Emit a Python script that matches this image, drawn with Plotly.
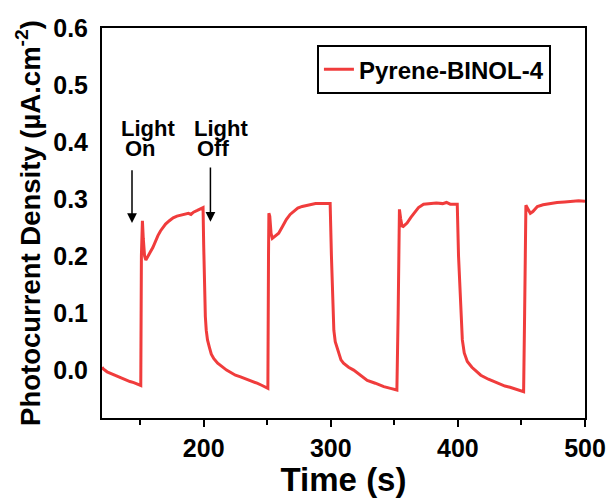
import plotly.graph_objects as go

# time (s) and photocurrent density (uA/cm^2)
time_s = [
    120, 121, 124, 127, 130, 133, 136, 139, 142, 145, 148, 150.5,
    151, 151.8, 152.5, 153.5, 154.5, 156, 158, 160, 162, 164, 166, 168, 170, 173, 176, 179,
    182, 185, 188, 190, 192, 195, 198, 199.5,
    200, 200.6, 201.3, 202, 203, 204.5, 206, 208, 211, 214.5, 218, 222, 225, 229, 233, 238,
    242, 246, 249, 250.5,
    251, 251.3, 252, 253, 254, 256, 259, 262, 265, 268, 271, 274, 277.5, 281, 285, 288, 292,
    296, 299.5,
    300.5, 301.5, 302.4, 303.5, 305, 306.5, 308, 310, 314, 318, 323, 328.7, 335, 341.7, 347, 352,
    353, 354, 355, 356, 357, 360, 363, 366, 369, 373, 378, 383, 388, 391, 394, 399.5,
    400.5, 401.3, 402.5, 403.5, 405, 407.4, 411, 415, 418, 424, 431, 437, 441, 446, 451.7,
    452.5, 453.5, 455, 457, 459, 462.5, 467, 472, 478, 484, 490, 495, 500,
]
current = [
    0.005, 0.002, -0.003, -0.006, -0.009, -0.011, -0.014, -0.017, -0.020, -0.022, -0.025, -0.027,
    0.200, 0.262, 0.230, 0.200, 0.193, 0.198, 0.207, 0.215, 0.226, 0.236, 0.244, 0.250, 0.256, 0.262, 0.267, 0.270,
    0.272, 0.274, 0.275, 0.273, 0.277, 0.280, 0.284, 0.285,
    0.220, 0.150, 0.094, 0.070, 0.053, 0.040, 0.028, 0.020, 0.012, 0.006, 0.000, -0.005, -0.009, -0.012, -0.015, -0.020,
    -0.023, -0.027, -0.030, -0.032,
    0.200, 0.275, 0.270, 0.240, 0.231, 0.234, 0.240, 0.252, 0.264, 0.273, 0.279, 0.284, 0.287, 0.289, 0.291, 0.292, 0.292,
    0.292, 0.292,
    0.200, 0.110, 0.070, 0.050, 0.038, 0.028, 0.018, 0.012, 0.005, 0.000, -0.008, -0.018, -0.023, -0.029, -0.032, -0.035,
    0.100, 0.282, 0.265, 0.253, 0.252, 0.258, 0.268, 0.277, 0.285, 0.291, 0.292, 0.293, 0.292, 0.294, 0.291, 0.291,
    0.200, 0.158, 0.090, 0.053, 0.030, 0.015, 0.005, -0.003, -0.009, -0.016, -0.023, -0.028, -0.030, -0.034, -0.038,
    0.100, 0.289, 0.283, 0.275, 0.278, 0.287, 0.290, 0.292, 0.294, 0.295, 0.296, 0.297, 0.296,
]

series_name = "Pyrene-BINOL-4"
x_ticks = [200, 300, 400, 500]
x_minor = [150, 250, 350, 450]
y_ticks = [0.0, 0.1, 0.2, 0.3, 0.4, 0.5, 0.6]

FONT = "Liberation Sans, Arial, sans-serif"

fig = go.Figure()
fig.add_trace(go.Scatter(
    x=time_s, y=current, mode="lines", name=series_name,
    line=dict(color="#F03C3C", width=3),
))

# annotations: labels and arrows
lab_font = dict(family=FONT, size=22, color="black")
fig.add_annotation(x=156, y=0.423, text="<b>Light</b>", showarrow=False, font=lab_font)
fig.add_annotation(x=150.1, y=0.388, text="<b>On</b>", showarrow=False, font=lab_font)
fig.add_annotation(x=213.8, y=0.423, text="<b>Light</b>", showarrow=False, font=lab_font)
fig.add_annotation(x=207.1, y=0.388, text="<b>Off</b>", showarrow=False, font=lab_font)
fig.add_annotation(x=143.6, y=0.258, ax=143.6, ay=0.353, axref="x", ayref="y",
                   xref="x", yref="y", text="", showarrow=True,
                   arrowhead=2, arrowsize=1.3, arrowwidth=1.5, arrowcolor="black")
fig.add_annotation(x=205.3, y=0.260, ax=205.3, ay=0.358, axref="x", ayref="y",
                   xref="x", yref="y", text="", showarrow=True,
                   arrowhead=2, arrowsize=1.3, arrowwidth=1.5, arrowcolor="black")

fig.update_layout(
    width=611, height=498,
    margin=dict(l=102, r=26, t=28, b=80),
    paper_bgcolor="white", plot_bgcolor="white",
    font=dict(family=FONT, color="black"),
    showlegend=True,
    legend=dict(
        x=0.445, y=0.956, xanchor="left", yanchor="top",
        bordercolor="black", borderwidth=2, bgcolor="white",
        font=dict(family=FONT, size=24, color="black", weight="bold"),
        tracegroupgap=0, itemwidth=30,
    ),
    xaxis=dict(
        range=[120, 500], tickvals=x_ticks, ticktext=[str(v) for v in x_ticks],
        automargin=False,
        showgrid=False, zeroline=False,
        showline=True, linecolor="black", linewidth=2, mirror=True,
        ticks="outside", ticklen=7, tickwidth=2, tickcolor="black",
        minor=dict(tickvals=x_minor, ticks="outside", ticklen=5,
                   tickwidth=2, tickcolor="black", showgrid=False),
        tickfont=dict(family=FONT, size=25, color="black", weight="bold"),
        title=dict(text="<b>Time (s)</b>", font=dict(family=FONT, size=33, color="black"),
                   standoff=2),
    ),
    yaxis=dict(
        range=[-0.084, 0.6], tickvals=y_ticks, ticktext=[f"{v:.1f}" for v in y_ticks],
        automargin=False,
        showgrid=False, zeroline=False,
        showline=True, linecolor="black", linewidth=2, mirror=True,
        ticks="", ticklabelstandoff=7,
        tickfont=dict(family=FONT, size=25, color="black", weight="bold"),
        title=dict(text="<b>Photocurrent Density (µA.cm<sup>-2</sup>)</b>",
                   font=dict(family=FONT, size=27.5, color="black"), standoff=5),
    ),
)

fig.write_html("out.html")
